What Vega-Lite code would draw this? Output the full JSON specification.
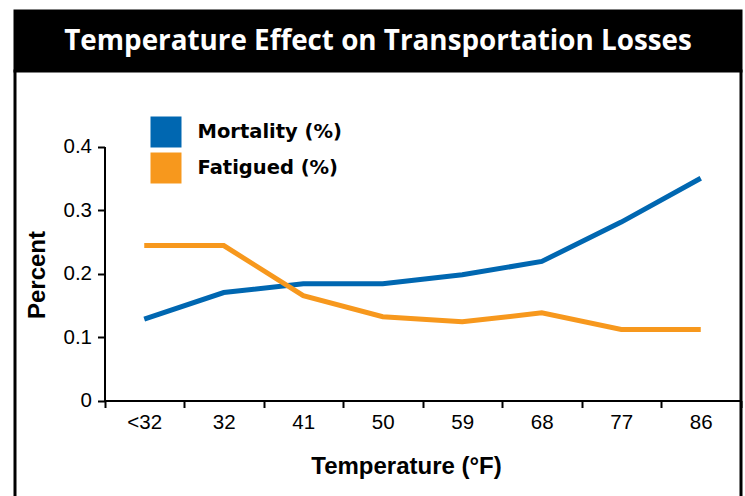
{
  "$schema": "https://vega.github.io/schema/vega-lite/v6.json",
  "background": "white",
  "padding": {"left": 13, "top": 9, "right": 0, "bottom": 0},
  "autosize": {"type": "pad"},
  "bounds": "flush",
  "spacing": 0,
  "config": {"view": {"stroke": null}, "concat": {"spacing": 0}},
  "vconcat": [
    {
      "width": 726,
      "height": 60,
      "view": {"fill": "black", "stroke": "black", "strokeWidth": 3},
      "data": {"values": [{"title": "Temperature Effect on Transportation Losses"}]},
      "mark": {"type": "text", "color": "white", "font": "Open Sans", "fontWeight": "bold", "fontSize": 27.8, "baseline": "middle", "align": "center", "dy": 1},
      "encoding": {"text": {"field": "title"}}
    },
    {
      "width": 726,
      "height": 428,
      "view": {"fill": "white", "stroke": "black", "strokeWidth": 3},
      "data": {
        "values": [
          {"temp": "<32", "i": 0, "series": "Mortality (%)", "pct": 0.128},
          {"temp": "32", "i": 1, "series": "Mortality (%)", "pct": 0.170},
          {"temp": "41", "i": 2, "series": "Mortality (%)", "pct": 0.184},
          {"temp": "50", "i": 3, "series": "Mortality (%)", "pct": 0.184},
          {"temp": "59", "i": 4, "series": "Mortality (%)", "pct": 0.198},
          {"temp": "68", "i": 5, "series": "Mortality (%)", "pct": 0.219},
          {"temp": "77", "i": 6, "series": "Mortality (%)", "pct": 0.281},
          {"temp": "86", "i": 7, "series": "Mortality (%)", "pct": 0.350},
          {"temp": "<32", "i": 0, "series": "Fatigued (%)", "pct": 0.244},
          {"temp": "32", "i": 1, "series": "Fatigued (%)", "pct": 0.244},
          {"temp": "41", "i": 2, "series": "Fatigued (%)", "pct": 0.165},
          {"temp": "50", "i": 3, "series": "Fatigued (%)", "pct": 0.132},
          {"temp": "59", "i": 4, "series": "Fatigued (%)", "pct": 0.124},
          {"temp": "68", "i": 5, "series": "Fatigued (%)", "pct": 0.138},
          {"temp": "77", "i": 6, "series": "Fatigued (%)", "pct": 0.112},
          {"temp": "86", "i": 7, "series": "Fatigued (%)", "pct": 0.112}
        ]
      },
      "mark": {"type": "line", "strokeWidth": 5},
      "encoding": {
        "x": {
          "field": "temp",
          "type": "ordinal",
          "sort": ["<32", "32", "41", "50", "59", "68", "77", "86"],
          "scale": {"type": "band", "range": [89.5, 725.5], "paddingInner": 0, "paddingOuter": 0},
          "axis": {
            "title": "Temperature (°F)",
            "orient": "bottom",
            "offset": -98.5,
            "tickBand": "extent",
            "labelAngle": 0,
            "grid": false,
            "domainColor": "black",
            "domainWidth": 2,
            "tickColor": "black",
            "tickWidth": 2,
            "tickSize": 7,
            "labelFont": "Liberation Sans",
            "labelFontSize": 20.5,
            "labelColor": "black",
            "labelPadding": 5,
            "titleFont": "Liberation Sans",
            "titleFontSize": 24,
            "titleFontWeight": "bold",
            "titleColor": "black",
            "titleBaseline": "middle",
            "titleX": 391,
            "titleY": 66
          }
        },
        "y": {
          "field": "pct",
          "type": "quantitative",
          "scale": {"domain": [0, 0.4], "range": [329.5, 75.5]},
          "axis": {
            "title": "Percent",
            "offset": -89.5,
            "values": [0, 0.1, 0.2, 0.3, 0.4],
            "format": "~g",
            "grid": false,
            "domainColor": "black",
            "domainWidth": 2,
            "tickColor": "black",
            "tickWidth": 2,
            "tickSize": 7,
            "labelFont": "Liberation Sans",
            "labelFontSize": 20.5,
            "labelColor": "black",
            "labelPadding": 6,
            "titleFont": "Liberation Sans",
            "titleFontSize": 24,
            "titleFontWeight": "bold",
            "titleColor": "black",
            "titleBaseline": "middle",
            "titleAngle": 270,
            "titleX": -67,
            "titleY": 203.5
          }
        },
        "color": {
          "field": "series",
          "type": "nominal",
          "scale": {"domain": ["Mortality (%)", "Fatigued (%)"], "range": ["#0067b1", "#f7981d"]},
          "legend": {
            "title": null,
            "orient": "none",
            "legendX": 135.5,
            "legendY": 105.5,
            "padding": 0,
            "symbolType": "square",
            "symbolSize": 961,
            "symbolStrokeWidth": 0,
            "rowPadding": 5,
            "labelFont": "DejaVu Sans",
            "labelFontWeight": "bold",
            "labelFontSize": 19.5,
            "labelColor": "black",
            "labelOffset": 16,
            "encode": {
              "symbols": {"update": {"fill": {"scale": "color", "field": "value"}, "opacity": {"value": 1}}}
            }
          }
        },
        "order": {"field": "i"}
      }
    }
  ]
}
